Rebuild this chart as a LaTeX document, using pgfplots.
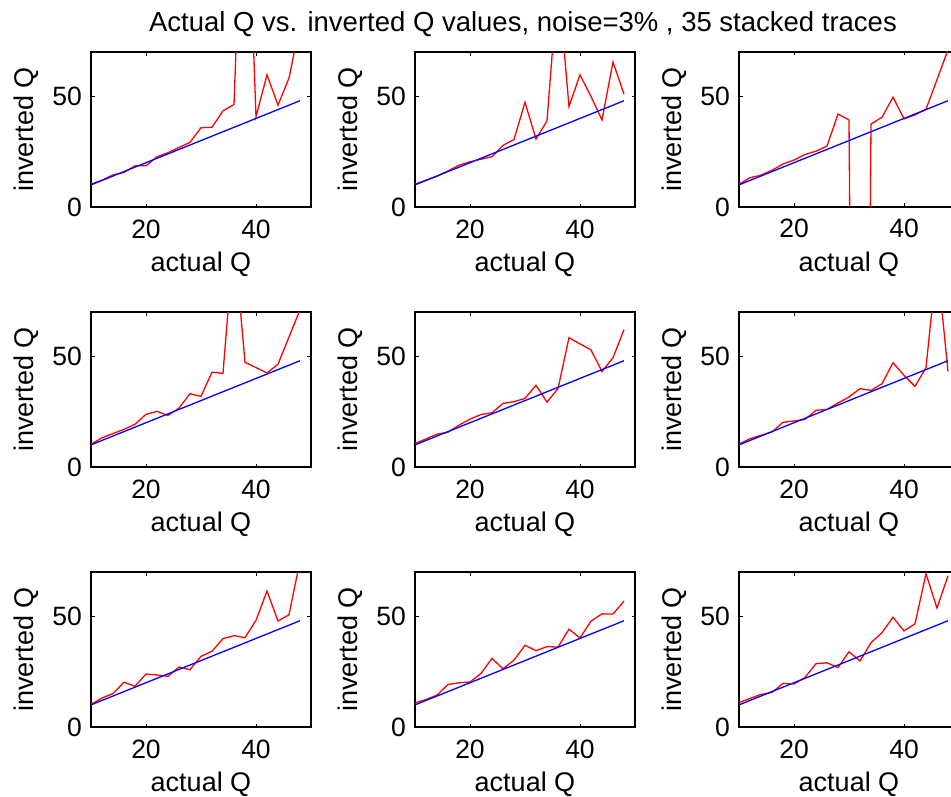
\documentclass[border=0pt]{standalone}
\usepackage{fontspec}
\setmainfont{Liberation Sans}
\usepackage{pgfplots}
\usepackage{pgfplotstable}
\pgfplotsset{compat=1.18}

% actual Q (column q) and the inverted Q of each of the nine runs (p1..p9)
\pgfplotstableread{
q   p1    p2    p3    p4    p5    p6    p7    p8    p9
10  10.3  10.3  10.3  10.2  10.6  10.3  10.2  10.9  11.0
12  12.1  12.1  13.2  13.2  12.7  12.8  13.1  12.4  12.9
14  14.5  13.9  14.4  15.1  14.8  14.3  15.1  14.4  14.7
16  15.6  16.3  16.6  17.0  15.7  15.8  20.2  19.2  15.6
18  18.6  18.9  19.4  19.3  18.9  20.2  18.4  20.0  19.7
20  18.6  20.4  21.2  23.8  21.6  20.8  23.9  20.3  19.4
22  22.7  21.6  23.7  25.1  23.7  21.5  23.5  24.2  22.4
24  24.5  22.7  25.2  23.3  24.5  25.6  22.9  31.0  28.6
26  26.9  27.8  27.5  26.6  28.7  26.0  27.1  26.3  29.0
28  29.2  30.5  42.0  33.1  29.5  28.9  25.9  30.2  26.8
30  35.8  47.3  39.3  31.9  31.0  31.6  31.9  36.9  34.0
32  36.0  30.7  -600  42.8  36.9  35.4  34.2  34.5  29.8
34  43.4  38.9  37.5  42.3  29.3  34.6  39.9  36.3  38.1
36  46.3  103   40.5  104   35.4  37.6  41.3  36.1  42.6
38  180   45.4  49.6  47.3  58.4  47.1  40.3  44.2  49.6
40  40.8  59.7  39.8  44.9  55.6  41.4  48.2  40.2  43.4
42  59.7  49.9  41.6  42.5  52.9  36.4  61.4  47.8  46.6
44  46.0  39.3  44.1  46.4  43.1  44.9  47.9  51.1  69.2
46  58.2  65.5  57.5  58.7  49.4  93    50.7  51.0  53.7
48  82.5  51.0  71    71    62.0  43.2  75    56.9  68.3
}\qdata

\pgfplotsset{
  panel/.style={
    anchor=south west, scale only axis, width=220bp, height=155bp,
    xmin=10, xmax=50, ymin=0, ymax=70,
    xtick={20,40}, xticklabels={20,40},
    ytick={0,50}, yticklabels={0,50},
    tick align=inside, tick pos=both, major tick length=3.5bp,
    tick style={black, line width=0.8bp},
    axis line style={black, line width=1.3bp},
    tick label style={font=\fontsize{26.5bp}{30bp}\selectfont, inner sep=0pt},
    xticklabel style={anchor=base, yshift=-31bp},
    yticklabel style={anchor=east, xshift=-9bp},
    xlabel={actual Q}, ylabel={inverted Q},
    label style={font=\fontsize{27bp}{30bp}\selectfont, inner sep=0pt},
    xlabel style={at={(axis description cs:0.5,-0.4174)}, anchor=base},
    ylabel style={at={(axis description cs:-0.2636,0.5)}, anchor=base},
  },
}

% one panel: left edge, bottom edge, column of inverted values
\newcommand{\panel}[3]{%
  \begin{axis}[panel, at={(#1bp,#2bp)}]
    \addplot[red, line width=1.3bp] table[x=q, y=#3] {\qdata};
    \addplot[blue, line width=1.3bp] table[x=q, y=q] {\qdata};
  \end{axis}%
}

\begin{document}
\begin{tikzpicture}
  \panel{91}{-207}{p1}
  \panel{415}{-207}{p2}
  \panel{739}{-207}{p3}
  \panel{91}{-467}{p4}
  \panel{415}{-467}{p5}
  \panel{739}{-467}{p6}
  \panel{91}{-727}{p7}
  \panel{415}{-727}{p8}
  \panel{739}{-727}{p9}
  \node[anchor=base, inner sep=0pt, font=\fontsize{27.5bp}{30bp}\selectfont]
    at (523bp,-31bp) {Actual Q vs. inverted Q values, noise=3\% , 35 stacked traces};
  \pgfresetboundingbox
  \path[use as bounding box] (0bp,0bp) rectangle (951bp,-797bp);
\end{tikzpicture}
\end{document}
